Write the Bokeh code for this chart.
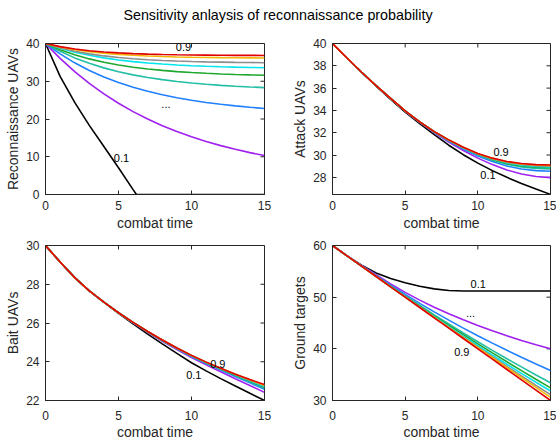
import math
from bokeh.plotting import figure
from bokeh.models import Range1d, FixedTicker, Label, Div
from bokeh.layouts import column, row
from bokeh.embed import file_html
from bokeh.resources import INLINE

# ---------------- data ----------------
t = [0, 1, 2, 3, 4, 5, 6, 7, 8, 9, 10, 11, 12, 13, 14, 15]
probs = ["0.1", "0.2", "0.3", "0.4", "0.5", "0.6", "0.7", "0.8", "0.9"]
colors = ["#000000", "#a020f0", "#2080ff", "#22bfa5", "#1fa82f",
          "#00e5ee", "#8c8c8c", "#f2b705", "#e00000"]

# Reconnaissance UAVs
recon_01_t = [0, 1, 2, 3, 4, 5, 6, 6.23, 15]
recon_01 = [40, 31.3, 24.4, 18.3, 12.7, 7.1, 1.3, 0, 0]
recon_02 = [40, 36.06, 32.55, 29.42, 26.64, 24.16, 21.95, 19.98, 18.23, 16.67, 15.29, 14.05, 12.95, 11.97, 11.09, 10.32]
recon_03 = [40, 37.24, 34.88, 32.86, 31.14, 29.67, 28.41, 27.33, 26.41, 25.62, 24.95, 24.38, 23.89, 23.47, 23.11, 22.80]
recon_04 = [40, 37.92, 36.19, 34.74, 33.54, 32.53, 31.69, 31.00, 30.42, 29.93, 29.53, 29.19, 28.91, 28.67, 28.48, 28.32]
recon_05 = [40, 38.35, 37.01, 35.92, 35.04, 34.32, 33.73, 33.26, 32.87, 32.56, 32.30, 32.10, 31.93, 31.79, 31.68, 31.59]
recon_06 = [40, 38.73, 37.70, 36.87, 36.19, 35.64, 35.20, 34.84, 34.55, 34.31, 34.12, 33.97, 33.84, 33.74, 33.65, 33.59]
recon_07 = [40, 38.85, 37.95, 37.26, 36.71, 36.29, 35.96, 35.70, 35.50, 35.35, 35.23, 35.13, 35.06, 35.00, 34.96, 34.92]
recon_08 = [40, 39.08, 38.37, 37.84, 37.42, 37.11, 36.87, 36.69, 36.55, 36.44, 36.36, 36.30, 36.25, 36.22, 36.19, 36.17]
recon_09 = [40, 39.17, 38.56, 38.10, 37.76, 37.51, 37.33, 37.19, 37.09, 37.02, 36.96, 36.92, 36.89, 36.86, 36.85, 36.84]

# Attack UAVs
attack_01 = [40, 38.70, 37.42, 36.18, 34.98, 33.85, 32.82, 31.83, 30.88, 30.03, 29.27, 28.60, 28.00, 27.45, 26.95, 26.47]
attack_02 = [40, 38.70, 37.42, 36.20, 35.05, 33.92, 32.93, 32.00, 31.17, 30.40, 29.72, 29.14, 28.66, 28.30, 28.08, 27.97]
attack_03 = [40, 38.70, 37.42, 36.21, 35.07, 33.94, 32.96, 32.06, 31.26, 30.54, 29.92, 29.41, 29.01, 28.74, 28.60, 28.55]
attack_04 = [40, 38.70, 37.42, 36.22, 35.08, 33.95, 32.97, 32.08, 31.30, 30.61, 30.02, 29.54, 29.17, 28.93, 28.80, 28.75]
attack_05 = [40, 38.70, 37.42, 36.22, 35.08, 33.95, 32.97, 32.09, 31.32, 30.64, 30.06, 29.60, 29.25, 29.02, 28.91, 28.86]
attack_06 = [40, 38.70, 37.42, 36.22, 35.08, 33.95, 32.98, 32.09, 31.33, 30.66, 30.08, 29.64, 29.31, 29.09, 28.97, 28.93]
attack_07 = [40, 38.70, 37.42, 36.22, 35.08, 33.95, 32.98, 32.10, 31.34, 30.67, 30.10, 29.67, 29.35, 29.15, 29.04, 29.00]
attack_08 = [40, 38.70, 37.42, 36.22, 35.08, 33.95, 32.98, 32.10, 31.35, 30.69, 30.12, 29.70, 29.39, 29.20, 29.10, 29.05]
attack_09 = [40, 38.70, 37.42, 36.22, 35.08, 33.95, 32.98, 32.10, 31.36, 30.70, 30.13, 29.72, 29.42, 29.24, 29.14, 29.10]

# Bait UAVs
bait_01 = [30, 29.15, 28.34, 27.66, 27.07, 26.50, 25.96, 25.43, 24.92, 24.43, 23.95, 23.53, 23.13, 22.75, 22.37, 22.00]
bait_02 = [30, 29.15, 28.34, 27.66, 27.08, 26.52, 26.01, 25.52, 25.06, 24.63, 24.22, 23.84, 23.48, 23.12, 22.77, 22.42]
bait_03 = [30, 29.15, 28.34, 27.66, 27.08, 26.53, 26.02, 25.54, 25.09, 24.67, 24.27, 23.91, 23.57, 23.24, 22.91, 22.58]
bait_04 = [30, 29.15, 28.34, 27.66, 27.08, 26.53, 26.03, 25.55, 25.10, 24.69, 24.30, 23.94, 23.61, 23.29, 22.97, 22.65]
bait_05 = [30, 29.15, 28.34, 27.66, 27.08, 26.53, 26.03, 25.55, 25.11, 24.70, 24.31, 23.95, 23.62, 23.30, 22.99, 22.68]
bait_06 = [30, 29.15, 28.34, 27.66, 27.08, 26.53, 26.03, 25.56, 25.11, 24.70, 24.32, 23.96, 23.64, 23.33, 23.02, 22.72]
bait_07 = [30, 29.15, 28.34, 27.66, 27.08, 26.53, 26.03, 25.56, 25.12, 24.71, 24.32, 23.97, 23.65, 23.35, 23.05, 22.76]
bait_08 = [30, 29.15, 28.34, 27.66, 27.08, 26.53, 26.03, 25.56, 25.12, 24.71, 24.33, 23.98, 23.66, 23.36, 23.07, 22.79]
bait_09 = [30, 29.15, 28.34, 27.66, 27.08, 26.53, 26.03, 25.56, 25.12, 24.71, 24.33, 23.98, 23.66, 23.36, 23.08, 22.82]

# Ground targets
ground_01 = [60, 58.0, 56.2, 54.7, 53.6, 52.8, 52.1, 51.6, 51.3, 51.2, 51.2, 51.2, 51.2, 51.2, 51.2, 51.2]
ground_02 = [60, 58.05, 56.15, 54.33, 52.58, 50.93, 49.43, 48.05, 46.80, 45.62, 44.52, 43.48, 42.52, 41.62, 40.78, 40.00]
ground_03 = [60, 58.0, 56.05, 54.15, 52.31, 50.53, 48.81, 47.15, 45.55, 44.01, 42.53, 41.10, 39.72, 38.38, 37.08, 35.82]
ground_04 = [60, 58.0, 56.02, 54.07, 52.15, 50.26, 48.40, 46.58, 44.80, 43.06, 41.36, 39.70, 38.08, 36.50, 34.95, 33.43]
ground_05 = [60, 58.0, 56.01, 54.04, 52.09, 50.16, 48.26, 46.39, 44.55, 42.74, 40.96, 39.21, 37.49, 35.78, 34.11, 32.45]
ground_06 = [60, 58.0, 56.0, 54.01, 52.03, 50.07, 48.13, 46.21, 44.31, 42.44, 40.60, 38.79, 37.01, 35.26, 33.54, 31.85]
ground_07 = [60, 58.0, 56.0, 54.0, 52.01, 50.03, 48.06, 46.10, 44.16, 42.24, 40.34, 38.46, 36.60, 34.76, 32.94, 31.14]
ground_08 = [60, 58.0, 56.0, 54.0, 52.0, 50.01, 48.03, 46.06, 44.10, 42.15, 40.21, 38.28, 36.36, 34.45, 32.53, 30.60]
ground_09 = [60, 58, 56, 54, 52, 50, 48, 46, 44, 42, 40, 38, 36, 34, 32, 30]

x_ticks = [0, 5, 10, 15]
recon_ticks = [0, 10, 20, 30, 40]
attack_ticks = [28, 30, 32, 34, 36, 38, 40]
bait_ticks = [22, 24, 26, 28, 30]
ground_ticks = [30, 40, 50, 60]

# annotation texts (text, t, value)
recon_notes = [("0.9", 9.45, 39.0), ("...", 8.25, 23.9), ("0.1", 5.2, 9.6)]
attack_notes = [("0.9", 11.6, 30.28), ("0.1", 10.7, 28.18)]
bait_notes = [("0.9", 11.8, 23.88), ("0.1", 10.16, 23.3)]
ground_notes = [("0.1", 10.03, 52.64), ("...", 9.5, 47.0), ("0.9", 8.9, 39.3)]

# ---------------- styling ----------------
FONT = "Liberation Sans"
AX = "#262626"
TICK_FS = "12px"
LAB_FS = "14px"


def style_axis(ax, label_standoff, axis_standoff):
    ax.axis_line_color = AX
    ax.major_tick_line_color = AX
    ax.major_tick_in = 4
    ax.major_tick_out = 0
    ax.minor_tick_line_color = None
    ax.major_label_text_font = FONT
    ax.major_label_text_font_size = TICK_FS
    ax.major_label_text_color = AX
    ax.major_label_standoff = label_standoff
    ax.axis_label_text_font = FONT
    ax.axis_label_text_font_size = LAB_FS
    ax.axis_label_text_font_style = "normal"
    ax.axis_label_text_color = AX
    ax.axis_label_standoff = axis_standoff


def make_panel(width, height, bl, bt, br, bb, yrange, yticks, ylabel,
               series, notes, xstand=6, xlab_stand=2, ylab_stand=2):
    p = figure(width=width, height=height, min_border_left=bl, min_border_top=bt,
               min_border_right=br, min_border_bottom=bb,
               x_range=Range1d(0, 15), y_range=Range1d(*yrange),
               output_backend="svg", toolbar_location=None, tools="")
    p.grid.visible = False
    p.outline_line_color = AX
    p.outline_line_width = 1
    p.background_fill_color = "white"
    p.border_fill_color = "white"
    p.xaxis.ticker = FixedTicker(ticks=x_ticks)
    p.yaxis.ticker = FixedTicker(ticks=yticks)
    p.xaxis.axis_label = "combat time"
    p.yaxis.axis_label = ylabel
    for ax in p.xaxis:
        style_axis(ax, xstand, xlab_stand)
    for ax in p.yaxis:
        style_axis(ax, 6, ylab_stand)
    # box ticks on the top and right edges (inward, 4 px)
    p.ray(x=x_ticks, y=[yrange[1]] * len(x_ticks), length=4, length_units="screen",
          angle=-math.pi / 2, line_color=AX, line_width=1)
    p.ray(x=[15] * len(yticks), y=yticks, length=4, length_units="screen",
          angle=math.pi, line_color=AX, line_width=1)
    for (xs, ys), c in zip(series, colors):
        p.line(xs, ys, line_color=c, line_width=1.6)
    for txt, tx, ty in notes:
        p.add_layout(Label(x=tx, y=ty, text=txt, text_align="center",
                           text_baseline="alphabetic" if txt == "..." else "middle",
                           text_font=FONT, text_font_size="11px", text_color="#000000"))
    return p


recon_series = [(recon_01_t, recon_01)] + [(t, s) for s in
                [recon_02, recon_03, recon_04, recon_05, recon_06, recon_07, recon_08, recon_09]]
attack_series = [(t, s) for s in [attack_01, attack_02, attack_03, attack_04, attack_05,
                                  attack_06, attack_07, attack_08, attack_09]]
bait_series = [(t, s) for s in [bait_01, bait_02, bait_03, bait_04, bait_05,
                                bait_06, bait_07, bait_08, bait_09]]
ground_series = [(t, s) for s in [ground_01, ground_02, ground_03, ground_04, ground_05,
                                  ground_06, ground_07, ground_08, ground_09]]

# page origin is (0,0): frames at x 45-264 / 332-550
p1 = make_panel(288, 206, 45, 13, 24, 42, (0, 40), recon_ticks, "Reconnaissance UAVs",
                recon_series, recon_notes)
p2 = make_panel(268, 206, 44, 13, 6, 42, (26.46, 40), attack_ticks, "Attack UAVs",
                attack_series, attack_notes)
p3 = make_panel(288, 206, 45, 9, 24, 42, (22, 30), bait_ticks, "Bait UAVs",
                bait_series, bait_notes, xstand=10, xlab_stand=1)
p4 = make_panel(268, 206, 44, 9, 6, 42, (30, 60), ground_ticks, "Ground targets",
                ground_series, ground_notes, xstand=10, xlab_stand=1)

title = Div(text="Sensitivity anlaysis of reconnaissance probability",
            width=556, height=30, margin=(0, 0, 0, 0),
            styles={"text-align": "center", "font-family": FONT, "font-size": "14.3px",
                    "line-height": "30px", "color": "#000000", "width": "556px",
                    "height": "30px"})

layout = column(title, row(p1, p2), row(p3, p4))

open("out.html", "w").write(file_html(layout, INLINE))
